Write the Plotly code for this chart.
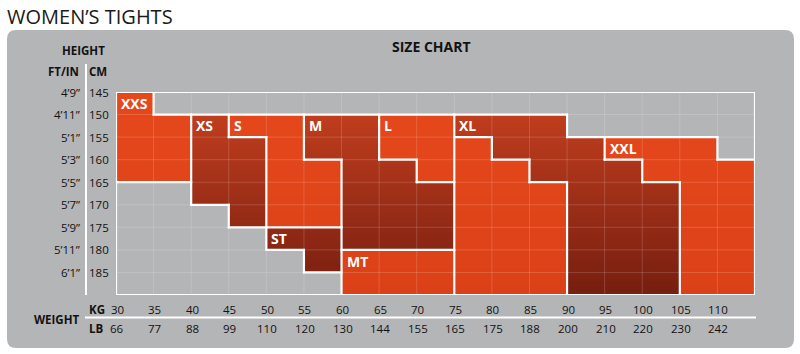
import numpy as np
import plotly.graph_objects as go

# ---------------- data ----------------
kg_ticks = [30, 35, 40, 45, 50, 55, 60, 65, 70, 75, 80, 85, 90, 95, 100, 105, 110]
lb_ticks = [66, 77, 88, 99, 110, 120, 130, 144, 155, 165, 175, 188, 200, 210, 220, 230, 242]
cm_ticks = [145, 150, 155, 160, 165, 170, 175, 180, 185]
ftin_ticks = ["4’9”", "4’11”", "5’1”", "5’3”", "5’5”", "5’7”", "5’9”", "5’11”", "6’1”"]
kg_edges = kg_ticks + [115]
cm_edges = cm_ticks + [190]

# size map: rows = height bands (145-150 ... 185-190), cols = weight bands (30-35 ... 110-115)
size_rows = [
    "XXS -   -   -   -   -   -   -   -   -   -   -   -   -   -   -   -",
    "XXS XXS XS  S   S   M   M   L   L   XL  XL  XL  -   -   -   -   -",
    "XXS XXS XS  XS  S   M   M   L   L   LT  XL  XL  XL  XXL XXL XXL -",
    "XXS XXS XS  XS  S   S   M   M   L   LT  LT  XL  XL  XL  XXL XXL XXL",
    "-   -   XS  XS  S   S   M   M   M   LT  LT  LT  XL  XL  XL  XXL XXL",
    "-   -   -   XS  S   S   M   M   M   LT  LT  LT  XL  XL  XL  XXL XXL",
    "-   -   -   -   ST  ST  M   M   M   LT  LT  LT  XL  XL  XL  XXL XXL",
    "-   -   -   -   -   ST  MT  MT  MT  LT  LT  LT  XL  XL  XL  XXL XXL",
    "-   -   -   -   -   -   MT  MT  MT  LT  LT  LT  XL  XL  XL  XXL XXL",
]
dark_sizes = ["XS", "ST", "M", "XL"]
labeled_sizes = ["XXS", "XS", "S", "M", "L", "XL", "XXL", "ST", "MT"]

# ---------------- geometry helpers ----------------
W, H = 800, 354
ML, MR, MT_, MB = 116, 45, 92, 59
PW, PH = W - ML - MR, H - MT_ - MB


def xp(px):
    return (px - ML) / PW


def yp(py):
    return (H - MB - py) / PH


grid = [r.split() for r in size_rows]
nr, nc = len(grid), len(grid[0])

# ---------------- heatmap (with vertical gradient) ----------------
SUB = 10
ymin, ymax = cm_edges[0], cm_edges[-1]
z = []
ys = []
for r in range(nr):
    for s in range(SUB):
        yc = cm_edges[r] + (s + 0.5) * (cm_edges[r + 1] - cm_edges[r]) / SUB
        ys.append(yc)
        t = (yc - ymin) / (ymax - ymin)
        row = []
        for c in range(nc):
            lab = grid[r][c]
            if lab == "-":
                row.append(np.nan)
            elif lab in dark_sizes:
                row.append(t)
            else:
                row.append(2 + t)
        z.append(row)
xs = [(kg_edges[i] + kg_edges[i + 1]) / 2 for i in range(nc)]

colorscale = [
    [0.0, "#C9411F"],
    [1 / 3, "#761E10"],
    [2 / 3, "#E6481B"],
    [1.0, "#DB4118"],
]

fig = go.Figure()
fig.add_trace(go.Heatmap(
    x=xs, y=ys, z=z, zmin=0, zmax=3, colorscale=colorscale,
    showscale=False, hoverinfo="skip",
))

# faint grid lines
gx, gy = [], []
for k in kg_edges[1:-1]:
    gx += [k, k, None]
    gy += [ymin, ymax, None]
for cm in cm_edges[1:-1]:
    gx += [kg_edges[0], kg_edges[-1], None]
    gy += [cm, cm, None]
fig.add_trace(go.Scatter(x=gx, y=gy, mode="lines",
                         line=dict(color="rgba(255,255,255,0.16)", width=1),
                         hoverinfo="skip", showlegend=False))

# white region borders
kx_per_px = (kg_edges[-1] - kg_edges[0]) / PW
cy_per_px = (ymax - ymin) / PH


def lab_at(r, c):
    if 0 <= r < nr and 0 <= c < nc:
        return grid[r][c]
    return None


bx, by = [], []
# vertical boundaries
for c in range(nc + 1):
    runs = []
    for r in range(nr):
        a, b = lab_at(r, c - 1), lab_at(r, c)
        draw = (a is None or b is None) or (a != b)
        if draw:
            if runs and runs[-1][1] == r:
                runs[-1][1] = r + 1
            else:
                runs.append([r, r + 1])
    for r0, r1 in runs:
        bx += [kg_edges[c], kg_edges[c], None]
        by += [cm_edges[r0] - cy_per_px, cm_edges[r1] + cy_per_px, None]
# horizontal boundaries
for r in range(nr + 1):
    runs = []
    for c in range(nc):
        a, b = lab_at(r - 1, c), lab_at(r, c)
        draw = (a is None or b is None) or (a != b)
        if draw:
            if runs and runs[-1][1] == c:
                runs[-1][1] = c + 1
            else:
                runs.append([c, c + 1])
    for c0, c1 in runs:
        bx += [kg_edges[c0] - kx_per_px, kg_edges[c1] + kx_per_px, None]
        by += [cm_edges[r], cm_edges[r], None]
fig.add_trace(go.Scatter(x=bx, y=by, mode="lines",
                         line=dict(color="white", width=2.2),
                         hoverinfo="skip", showlegend=False))

# ---------------- annotations ----------------
TXT = "#121212"
FONT = "Open Sans"
ann = []
# size labels at top-left cell of each region
for lab in labeled_sizes:
    found = None
    for r in range(nr):
        for c in range(nc):
            if grid[r][c] == lab:
                found = (r, c)
                break
        if found:
            break
    r, c = found
    ann.append(dict(x=kg_edges[c], y=(cm_edges[r] + cm_edges[r + 1]) / 2,
                    xref="x", yref="y", text=lab, showarrow=False,
                    xanchor="left", yanchor="middle", xshift=3,
                    font=dict(family=FONT, size=14, color="white", weight="bold")))

# height labels
for ft, cm in zip(ftin_ticks, cm_ticks):
    ann.append(dict(x=0, y=cm, xref="paper", yref="y", text=ft, showarrow=False,
                    xanchor="right", yanchor="middle", xshift=-34,
                    font=dict(family=FONT, size=11.5, color=TXT)))
    ann.append(dict(x=0, y=cm, xref="paper", yref="y", text=str(cm), showarrow=False,
                    xanchor="left", yanchor="middle", xshift=-29,
                    font=dict(family=FONT, size=11.5, color=TXT)))

# weight labels
for kg, lb in zip(kg_ticks, lb_ticks):
    ann.append(dict(x=kg, y=0, xref="x", yref="paper", text=str(kg), showarrow=False,
                    xanchor="center", yanchor="middle", xshift=1, yshift=-14,
                    font=dict(family=FONT, size=11.5, color=TXT)))
    ann.append(dict(x=kg, y=0, xref="x", yref="paper", text=str(lb), showarrow=False,
                    xanchor="center", yanchor="middle", xshift=1, yshift=-33,
                    font=dict(family=FONT, size=11.5, color=TXT)))


def ptext(px, py, text, size, anchor="left", bold=True, color=TXT):
    ann.append(dict(x=xp(px), y=yp(py), xref="paper", yref="paper", text=text,
                    showarrow=False, xanchor=anchor, yanchor="middle",
                    font=dict(family=FONT, size=size, color=color,
                              weight="bold" if bold else "normal")))


ptext(5, 16, "WOMEN’S TIGHTS", 20, bold=False, color="#1a1a1a")
ptext(431, 47, "SIZE CHART", 14, anchor="center")
ptext(107, 51, "HEIGHT", 11.5, anchor="right")
ptext(81, 71, "FT/IN", 11.5, anchor="right")
ptext(87, 71, "CM", 11.5)
ptext(81, 319, "WEIGHT", 11.5, anchor="right")
ptext(87, 309, "KG", 11.5)
ptext(87, 328, "LB", 11.5)

# ---------------- background panel & divider lines ----------------
x0, x1, y0, y1, rad = 7, 794, 30, 348, 9
path = (f"M {xp(x0 + rad)} {yp(y0)} L {xp(x1 - rad)} {yp(y0)} "
        f"Q {xp(x1)} {yp(y0)} {xp(x1)} {yp(y0 + rad)} "
        f"L {xp(x1)} {yp(y1 - rad)} Q {xp(x1)} {yp(y1)} {xp(x1 - rad)} {yp(y1)} "
        f"L {xp(x0 + rad)} {yp(y1)} Q {xp(x0)} {yp(y1)} {xp(x0)} {yp(y1 - rad)} "
        f"L {xp(x0)} {yp(y0 + rad)} Q {xp(x0)} {yp(y0)} {xp(x0 + rad)} {yp(y0)} Z")
shapes = [
    dict(type="path", xref="paper", yref="paper", path=path,
         fillcolor="#B4B5B7", line=dict(width=0), layer="below"),
    dict(type="line", xref="paper", yref="paper", x0=xp(86), x1=xp(86),
         y0=yp(64), y1=yp(295), line=dict(color="white", width=2), layer="above"),
    dict(type="line", xref="paper", yref="paper", x0=xp(85), x1=xp(756),
         y0=yp(317.5), y1=yp(317.5), line=dict(color="white", width=2), layer="above"),
]

fig.update_layout(
    width=W, height=H,
    margin=dict(l=ML, r=MR, t=MT_, b=MB, pad=0),
    paper_bgcolor="white", plot_bgcolor="rgba(0,0,0,0)",
    xaxis=dict(range=[kg_edges[0], kg_edges[-1]], showgrid=False, zeroline=False,
               showticklabels=False, ticks="", showline=False, fixedrange=True),
    yaxis=dict(range=[ymax, ymin], showgrid=False, zeroline=False,
               showticklabels=False, ticks="", showline=False, fixedrange=True),
    annotations=ann, shapes=shapes, showlegend=False,
)

fig.write_html("out.html")
